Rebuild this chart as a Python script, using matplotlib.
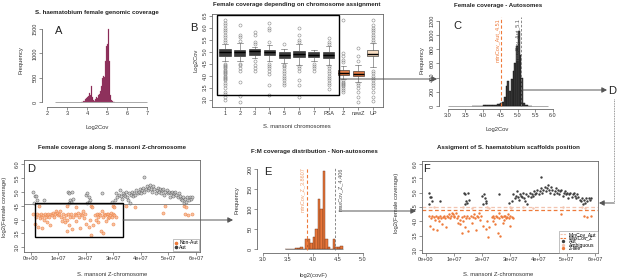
import matplotlib
matplotlib.use("Agg")
import matplotlib.pyplot as plt
from matplotlib.patches import Rectangle, FancyArrowPatch
from matplotlib.lines import Line2D
import numpy as np

plt.rcParams['font.family'] = ['Liberation Sans', 'DejaVu Sans']

W, H = 617, 280

# ---- data ----
# A: female genomic coverage histogram (bin left edge, count)
a_left = [3.70, 3.75, 3.80, 3.85, 3.90, 3.95, 4.00, 4.05, 4.10, 4.15, 4.20, 4.25,
          4.30, 4.35, 4.40, 4.45, 4.50, 4.55, 4.60, 4.65, 4.70, 4.75, 4.80, 4.85,
          4.90, 4.95, 5.00, 5.05, 5.10, 5.15, 5.20, 5.25, 5.30, 5.35]
a_counts = [5, 10, 15, 25, 60, 90, 110, 120, 180, 150, 330, 110,
            40, 20, 70, 100, 90, 140, 160, 230, 320, 500, 540, 520,
            850, 1150, 1200, 1500, 850, 150, 40, 20, 10, 5]

# B: boxplot statistics per chromosome assignment
b_cats = ['1', '2', '3', '4', '5', '6', '7', 'PSA', 'Z', 'newZ', 'UP']
b_med = [5.00, 4.97, 5.02, 4.98, 4.88, 4.90, 4.88, 4.88, 4.12, 4.08, 4.92]
b_q1 = [4.80, 4.82, 4.88, 4.84, 4.74, 4.76, 4.78, 4.74, 4.02, 3.98, 4.80]
b_q3 = [5.09, 5.08, 5.10, 5.08, 4.98, 5.02, 4.98, 5.00, 4.22, 4.18, 5.08]
b_lo = [4.62, 4.60, 4.72, 4.60, 4.52, 4.45, 4.60, 4.45, 3.85, 3.72, 4.35]
b_hi = [5.32, 5.38, 5.20, 5.28, 5.10, 5.32, 5.08, 5.25, 4.40, 4.45, 5.38]
b_fliers = [
    [3.0, 3.1, 3.25, 3.3, 3.5, 3.6, 3.7, 3.8, 3.85, 3.9, 3.95, 4.0, 4.05, 4.1,
     4.15, 4.2, 4.25, 4.3, 4.35, 4.4, 4.45, 4.5, 5.4, 5.5, 5.6, 5.7, 5.8, 5.9,
     6.0, 6.1, 6.2, 6.3],
    [2.9, 3.15, 3.75, 4.2, 4.3, 4.45, 4.5, 5.45, 5.6, 5.7, 6.1],
    [4.2, 4.3, 4.45, 4.6, 5.3, 5.4, 5.7, 5.8],
    [3.2, 3.6, 4.05, 4.2, 4.3, 4.4, 4.5, 5.4, 5.9, 6.0, 6.2],
    [3.6, 3.7, 3.8, 3.9, 4.0, 4.1, 4.2, 4.3, 4.4, 4.45, 5.3],
    [3.1, 3.6, 3.8, 4.2, 4.3, 4.4, 5.4, 5.5, 5.7, 6.0],
    [4.2, 4.3, 4.4, 4.5],
    [3.45, 3.6, 3.7, 3.8, 3.9, 4.0, 4.1, 4.2, 4.3, 4.4, 5.3, 5.4, 5.55],
    [3.3, 3.4, 3.5, 3.55, 3.6, 3.65, 3.7, 3.75, 3.8, 4.55, 4.65, 4.8, 4.95, 6.3],
    [2.9, 3.1, 3.3, 3.5, 3.6, 3.7, 4.6, 4.8, 5.15],
    [2.95, 3.1, 3.3, 3.5, 3.6, 3.7, 3.8, 3.9, 4.0, 4.1, 4.2, 5.4, 5.5, 5.6,
     5.7, 5.8, 5.9, 6.0, 6.1, 6.3],
]
b_colors = ['#3c3c3c'] * 8 + ['#e07b45', '#e07b45', '#f7dcc0']

# C: autosome coverage histogram
c_left = [3.70, 3.75, 3.80, 3.85, 3.90, 3.95, 4.00, 4.05, 4.10, 4.15, 4.20, 4.25,
          4.30, 4.35, 4.40, 4.45, 4.50, 4.55, 4.60, 4.65, 4.70, 4.75, 4.80, 4.85,
          4.90, 4.95, 5.00, 5.05, 5.10, 5.15, 5.20, 5.25, 5.30, 5.35]
c_counts = [3, 2, 4, 3, 5, 4, 10, 8, 12, 10, 15, 12,
            10, 15, 25, 30, 45, 60, 130, 280, 350, 210, 380, 490,
            600, 850, 1050, 720, 400, 40, 15, 8, 5, 3]
c_min_aut = 4.51
c_max_aut = 5.10

# E: non-autosome F:M coverage histogram
e_left = [3.45, 3.50, 3.55, 3.60, 3.65, 3.70, 3.75, 3.80, 3.85, 3.90, 3.95, 4.00,
          4.05, 4.10, 4.15, 4.20, 4.25, 4.30, 4.35, 4.40, 4.45, 4.50, 4.55]
e_counts = [1, 1, 1, 2, 4, 3, 5, 0, 25, 25, 15, 30,
            50, 125, 100, 195, 25, 5, 2, 25, 5, 5, 8]
e_min_z = 3.88
e_max_z = 4.44

# D / F: scaffolds along the S. mansoni Z chromosome (position in Mb, log2 coverage)
z_pos_mb = [
    1.0, 1.5, 2.0, 2.3, 2.6, 3.0, 3.3, 3.6, 4.0, 4.2, 4.5, 4.8, 5.1, 5.4, 5.8,
    6.0, 6.4, 6.8, 7.1, 7.4, 7.8, 8.1, 8.5, 8.9, 9.2, 9.5, 9.9, 10.2, 10.6, 11.0,
    11.3, 11.6, 12.0, 12.3, 12.7, 13.0, 13.3, 13.6, 14.0, 14.4, 14.8, 15.1, 15.5,
    15.9, 16.3, 16.6, 17.0, 17.4, 17.8, 18.1, 18.5, 18.9, 19.3, 19.6, 20.2, 21.3,
    21.6, 22.0, 22.5, 23.4, 23.7, 24.0, 24.3, 24.6, 24.9, 25.2, 25.5, 25.8, 26.1,
    26.4, 26.7, 27.0, 27.3, 27.6, 27.9, 28.2, 28.5, 28.8, 29.1, 29.4, 29.7, 30.0,
    30.4, 31.0, 48.0, 56.0, 57.0, 58.5,
    1.0, 1.5, 2.0, 2.4, 1.2, 5.0, 13.5, 14.0, 14.3, 14.8, 15.0, 13.8, 15.4, 20.0,
    20.5, 21.0, 21.2, 20.3, 21.5, 26.0, 29.5, 30.5,
    31.0, 31.5, 32.0, 32.3, 32.7, 33.0, 33.4, 33.8, 34.2, 34.5, 34.9, 35.3, 35.7,
    36.0, 36.4, 36.8, 37.2, 37.6, 38.0, 38.4, 38.8, 39.2, 39.6, 40.0, 40.4, 40.8,
    41.0, 41.3, 41.7, 42.1, 42.5, 42.9, 43.3, 43.7, 44.1, 44.5, 44.9, 45.3, 45.7,
    46.1, 46.5, 46.9, 47.3, 47.7, 48.1, 48.5, 48.9, 49.3, 49.7, 50.1, 50.5, 50.9,
    51.3, 51.7, 52.1, 52.5, 52.9, 53.3, 53.7, 54.1, 54.5, 54.9, 55.3, 55.7, 56.1,
    56.5, 56.9, 57.3, 57.7, 58.1, 58.5,
    3.0, 13.2, 16.5, 21.8, 22.4, 29.8, 30.2, 34.5, 38.0, 48.8, 55.5, 56.3]
z_cov = [
    4.20, 3.85, 4.10, 4.20, 3.75, 4.15, 4.05, 4.20, 3.70, 4.10, 4.15, 4.00, 4.20,
    4.10, 3.90, 4.15, 4.20, 4.10, 3.80, 4.20, 4.15, 4.25, 4.10, 4.20, 4.30, 4.25,
    4.15, 4.20, 4.30, 4.10, 3.95, 4.20, 4.05, 3.90, 4.15, 3.60, 4.00, 4.20, 3.80,
    4.10, 4.20, 3.65, 4.10, 4.20, 3.95, 4.15, 4.25, 4.10, 3.70, 4.20, 4.15, 4.30,
    4.05, 4.20, 3.85, 3.75, 4.00, 3.45, 3.80, 4.15, 4.00, 4.20, 4.10, 3.90, 4.20,
    4.15, 3.60, 4.30, 4.10, 3.50, 4.20, 4.15, 3.95, 4.20, 4.05, 4.20, 4.10, 4.15,
    4.25, 4.10, 3.85, 4.20, 4.15, 4.10, 4.25, 4.20, 4.15, 4.20,
    5.00, 4.85, 4.85, 4.70, 4.60, 4.70, 5.00, 4.95, 4.70, 4.65, 5.00, 4.60, 4.75,
    4.90, 4.95, 4.80, 4.65, 4.60, 4.70, 4.95, 4.65, 4.70,
    4.95, 4.80, 4.90, 5.05, 4.85, 4.75, 4.95, 4.90, 4.85, 5.00, 4.80, 4.70, 4.95,
    4.60, 4.90, 5.00, 4.85, 4.95, 4.90, 5.05, 4.95, 5.00, 5.10, 4.95, 5.05, 5.15,
    5.55, 5.00, 5.10, 5.20, 5.05, 5.15, 5.25, 5.10, 5.00, 5.20, 5.10, 4.95, 5.05,
    5.15, 5.00, 5.10, 4.95, 5.05, 5.10, 4.90, 5.00, 5.05, 4.95, 5.00, 4.80, 4.95,
    5.00, 4.85, 4.95, 5.00, 4.90, 4.80, 4.95, 4.85, 4.75, 4.70, 4.80, 4.60, 4.75,
    4.65, 4.80, 4.70, 4.80, 4.75, 4.80,
    4.50, 4.50, 4.45, 4.50, 4.45, 4.50, 4.45, 4.50, 4.45, 4.50, 4.50, 4.45]
d_cut = 4.55      # autosomal threshold shown in D
f_min_aut = 4.51
f_max_z = 4.40

ORANGE = '#ee7a3a'
DARK = '#3e3e3e'
AXC = '#666666'
TXT = '#333333'


def fx(x):
    return x / W


def fy(y):
    return 1 - y / H


def px_axes(l, t, r, b):
    return fig.add_axes([fx(l), fy(b), (r - l) / W, (b - t) / H])


def style(ax, rstyle=False):
    ax.tick_params(length=2, width=0.5, colors=AXC, labelsize=4, pad=1,
                   labelcolor=TXT)
    for s in ax.spines.values():
        s.set_color(AXC)
        s.set_linewidth(0.6)
    if rstyle:
        ax.spines['top'].set_visible(False)
        ax.spines['right'].set_visible(False)
    for t in ax.get_yticklabels():
        t.set_rotation(90)
        t.set_va('center')


def ftext(x, y, s, **kw):
    kw.setdefault('fontsize', 4.2)
    kw.setdefault('color', TXT)
    kw.setdefault('ha', 'center')
    kw.setdefault('va', 'center')
    fig.text(fx(x), fy(y), s, **kw)


def farrow(x0, y0, x1, y1, color='#555555'):
    fig.add_artist(FancyArrowPatch((fx(x0), fy(y0)), (fx(x1), fy(y1)),
                                   transform=fig.transFigure,
                                   arrowstyle='-|>,head_length=3,head_width=1.6',
                                   color=color, lw=0.7, shrinkA=0, shrinkB=0))


fig = plt.figure(figsize=(W / 100, H / 100), dpi=100)

# ---- A ----
axA = px_axes(42, 24, 152, 107)
axA.bar(a_left, a_counts, width=0.05, align='edge', color='#7b1548',
        edgecolor='#b0607f', linewidth=0.2)
axA.hlines(0, 2.4, 7.0, color='#888888', lw=0.5)
axA.set_xlim(1.75, 7.25)
axA.set_ylim(-103, 1603)
axA.set_xticks([2, 3, 4, 5, 6, 7])
axA.set_yticks([0, 500, 1000, 1500])
style(axA, rstyle=True)
axA.spines['left'].set_bounds(0, 1500)
axA.spines['bottom'].set_bounds(2, 7)
ftext(97, 12.5, 'S. haematobium female genomic coverage', fontsize=4.4,
      fontweight='bold', color='#222222')
ftext(21, 60, 'Frequency', rotation=90)
ftext(97, 128, 'Log2Cov')
ftext(59, 31, 'A', fontsize=8, color='#222222')

# ---- B ----
axB = px_axes(212, 14, 383, 107)
stats = []
for i in range(len(b_cats)):
    stats.append(dict(med=b_med[i], q1=b_q1[i], q3=b_q3[i], whislo=b_lo[i],
                      whishi=b_hi[i], fliers=b_fliers[i]))
bp = axB.bxp(stats, positions=range(1, len(b_cats) + 1), widths=0.75,
             patch_artist=True, showfliers=True,
             boxprops=dict(linewidth=0.4, edgecolor='#222222'),
             medianprops=dict(color='black', linewidth=1.0),
             whiskerprops=dict(color='#555555', linewidth=0.4),
             capprops=dict(color='#555555', linewidth=0.4),
             flierprops=dict(marker='o', markersize=2.2, markerfacecolor='none',
                             markeredgecolor='#888888', markeredgewidth=0.4))
for patch, c in zip(bp['boxes'], b_colors):
    patch.set_facecolor(c)
axB.set_xlim(0.12, 11.68)
axB.set_ylim(2.69, 6.57)
axB.set_xticks(range(1, len(b_cats) + 1))
axB.set_xticklabels(b_cats)
axB.set_yticks([3.0, 3.5, 4.0, 4.5, 5.0, 5.5, 6.0, 6.5])
style(axB)
axB.add_patch(Rectangle((0.45, 3.17), 8.26, 3.37, fill=False, edgecolor='black',
                        lw=1.0, zorder=5))
ftext(297, 4.5, 'Female coverage depending on chromosome assignment',
      fontsize=4.4, fontweight='bold', color='#222222')
ftext(196, 60, 'Log2Cov', rotation=90)
ftext(297, 127, 'S. mansoni chromosomes')
ftext(194, 28, 'B', fontsize=8, color='#222222')

# ---- C ----
axC = px_axes(439, 15, 560, 109)
axC.bar(c_left, c_counts, width=0.05, align='edge', color='#3c3c3c',
        edgecolor='#111111', linewidth=0.3)
axC.hlines(0, 3.0, 5.85, color='#888888', lw=0.5)
axC.axvline(c_min_aut, ymin=0.03, ymax=0.98, color=ORANGE, lw=0.8, ls=(0, (3, 2)))
axC.axvline(c_max_aut, ymin=0.03, ymax=0.98, color='#777777', lw=0.6, ls=(0, (3, 2)))
axC.text(c_min_aut - 0.03, 1230, 'minCov_Aut_%.2f' % c_min_aut, rotation=90,
         ha='right', va='top', fontsize=4, color=ORANGE)
axC.text(c_max_aut - 0.03, 1230, 'maxCov_Aut_%.1f' % c_max_aut, rotation=90,
         ha='right', va='top', fontsize=4, color='#555555')
axC.set_xlim(2.743, 6.2)
axC.set_ylim(-42, 1280)
axC.set_xticks([3.0, 3.5, 4.0, 4.5, 5.0, 5.5, 6.0])
axC.set_yticks([0, 200, 400, 600, 800, 1000, 1200])
style(axC, rstyle=True)
axC.spines['left'].set_bounds(0, 1200)
axC.spines['bottom'].set_bounds(3.0, 6.0)
ftext(498, 6, 'Female coverage - Autosomes', fontsize=4.4, fontweight='bold',
      color='#222222')
ftext(422, 60, 'Frequency', rotation=90)
ftext(497, 130, 'Log2Cov')
ftext(457, 26, 'C', fontsize=8, color='#222222')

# ---- D ----
z_x = np.array(z_pos_mb) * 1e6
z_y = np.array(z_cov)
axD = px_axes(24, 160, 200, 251.7)
aut_d = z_y >= d_cut
axD.scatter(z_x[~aut_d], z_y[~aut_d], s=5, facecolors='#f6b48c',
            edgecolors=ORANGE, linewidths=0.4, alpha=0.8)
axD.scatter(z_x[aut_d], z_y[aut_d], s=5, facecolors='#c8c8c8',
            edgecolors='#555555', linewidths=0.4, alpha=0.8)
axD.axhline(d_cut, color='#777777', lw=0.6)
axD.add_patch(Rectangle((0.145e7, 3.38), 3.195e7, 1.21, fill=False,
                        edgecolor='black', lw=1.0, zorder=5))
axD.set_xlim(-0.243e7, 6.145e7)
axD.set_ylim(2.845, 6.144)
axD.set_xticks([0, 1e7, 2e7, 3e7, 4e7, 5e7, 6e7])
axD.set_xticklabels(['0e+00', '1e+07', '2e+07', '3e+07', '4e+07', '5e+07', '6e+07'])
axD.set_yticks([3.0, 3.5, 4.0, 4.5, 5.0, 5.5, 6.0])
style(axD)
hD = [Line2D([], [], ls='', marker='o', ms=1.6, color=ORANGE),
      Line2D([], [], ls='', marker='o', ms=1.6, color=DARK)]
legD = axD.legend(hD, ['Non-Aut', 'Aut'], loc='lower right', fontsize=3.6,
                  handlelength=0.6, handletextpad=0.4, labelspacing=-0.15,
                  borderpad=0.25, borderaxespad=0.15, fancybox=False)
legD.get_frame().set_linewidth(0.4)
legD.get_frame().set_edgecolor('#777777')
ftext(112, 147, 'Female coverage along S. mansoni Z-chromosome', fontsize=4.4,
      fontweight='bold', color='#222222')
ftext(5, 207, 'log2(Female coverage)', rotation=90)
ftext(112, 274, 'S. mansoni Z-chromosome')
ftext(31, 169, 'D', fontsize=8, color='#222222')

# ---- E ----
axE = px_axes(257, 165, 368, 253)
axE.bar(e_left, e_counts, width=0.05, align='edge', color='#e8763a',
        edgecolor='#6e3418', linewidth=0.3)
axE.hlines(0, 3.45, 4.6, color='#555555', lw=0.4)
axE.axvline(e_min_z, ymin=0.03, ymax=0.98, color=ORANGE, lw=0.8, ls=(0, (3, 2)))
axE.axvline(e_max_z, ymin=0.03, ymax=0.98, color='#777777', lw=0.6, ls=(0, (3, 2)))
axE.text(e_min_z - 0.03, 205, 'minCov_Z_3.8607', rotation=90, ha='right',
         va='top', fontsize=4, color='#f0a070')
axE.text(e_max_z + 0.06, 205, 'maxCov_Z_4.406', rotation=90, ha='left',
         va='top', fontsize=4, color='#555555')
axE.set_xlim(2.887, 5.105)
axE.set_ylim(-9.25, 210.75)
axE.set_xticks([3.0, 3.5, 4.0, 4.5, 5.0])
axE.set_yticks([0, 50, 100, 150, 200])
style(axE, rstyle=True)
axE.spines['left'].set_bounds(0, 200)
axE.spines['bottom'].set_bounds(3.0, 5.0)
ftext(314, 151, 'F:M coverage distribution - Non-autosomes', fontsize=4.4,
      fontweight='bold', color='#222222')
ftext(237, 200, 'Frequency', rotation=90)
ftext(314, 276, 'log2(covF)')
ftext(268, 172, 'E', fontsize=8, color='#222222')

# ---- F ----
axF = px_axes(421.7, 160.7, 598, 252.7)
aut_f = z_y >= f_min_aut
zl_f = z_y <= f_max_z
amb_f = ~aut_f & ~zl_f
axF.axhline(f_min_aut, color='#f3c4b0', lw=0.9, ls=(0, (3, 2)))
axF.axhline(f_max_z, color=ORANGE, lw=0.9, ls=(0, (3, 2)))
axF.scatter(z_x[aut_f], z_y[aut_f], s=3, color=DARK, linewidths=0)
axF.scatter(z_x[amb_f], z_y[amb_f], s=3, color='#f3c4b0', linewidths=0)
axF.scatter(z_x[zl_f], z_y[zl_f], s=3, color=ORANGE, linewidths=0)
axF.set_xlim(-0.142e7, 6.105e7)
axF.set_ylim(2.906, 6.115)
axF.set_xticks([0, 1e7, 2e7, 3e7, 4e7, 5e7, 6e7])
axF.set_xticklabels(['0e+00', '1e+07', '2e+07', '3e+07', '4e+07', '5e+07', '6e+07'])
axF.set_yticks([3.0, 3.5, 4.0, 4.5, 5.0, 5.5, 6.0])
style(axF)
hF = [Line2D([], [], color='#f3c4b0', lw=0.8, ls=(0, (2, 1))),
      Line2D([], [], color=ORANGE, lw=0.8, ls=(0, (2, 1))),
      Line2D([], [], ls='', marker='o', ms=1.4, color=DARK),
      Line2D([], [], ls='', marker='o', ms=1.4, color='#f3c4b0'),
      Line2D([], [], ls='', marker='o', ms=1.4, color=ORANGE)]
legF = axF.legend(hF, ['MinCov_Aut', 'MaxCov_Z', 'Aut', 'Ambiguous', 'Z-like'],
                  loc='lower right', fontsize=3.6, handlelength=1.2,
                  handletextpad=0.6, labelspacing=-0.3, borderpad=0.3,
                  borderaxespad=0.0, fancybox=False)
legF.get_frame().set_linewidth(0.4)
legF.get_frame().set_edgecolor('#777777')
ftext(508, 147, 'Assigment of S. haematobium scaffolds position', fontsize=4.4,
      fontweight='bold', color='#222222')
ftext(396, 203, 'log2(Female coverage)', rotation=90)
ftext(498, 275, 'S. mansoni Z-chromosome')
ftext(427, 169, 'F', fontsize=8, color='#222222')

# ---- connecting arrows ----
farrow(340, 79, 437, 79)
farrow(522, 90, 607, 90)
ftext(612, 91, 'D', fontsize=8, color='#222222')
fig.add_artist(Line2D([fx(614), fx(614)], [fy(99), fy(203)], transform=fig.transFigure,
                      color='#777777', lw=0.6, ls=(0, (1, 1))))
farrow(614, 203, 599, 203)
farrow(123, 220, 233, 220)
farrow(339, 211, 416, 211)

fig.savefig('out.png', dpi=100)
